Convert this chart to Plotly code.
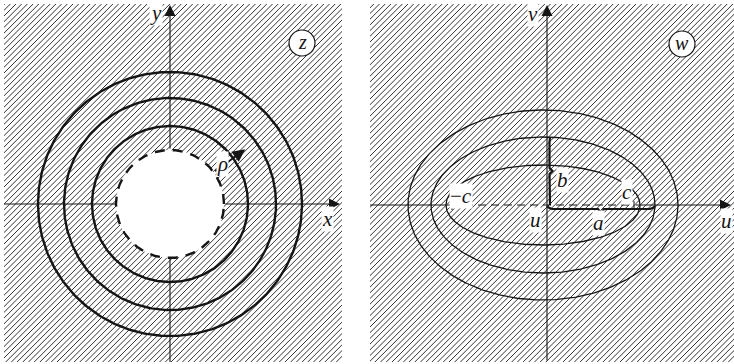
import numpy as np
import plotly.graph_objects as go

W, H = 734, 364

# z-plane: circles |z| = rho, the first one is the dashed inner boundary
z_radii = [54, 78, 106, 132]
z_dashed = [True, False, False, False]
z_rho_arrow = [54, 93]          # radial extent of the rho arrow
z_rho_angle = 36                # degrees

# w-plane: confocal ellipses (semi-axes a, b) around the slit [-c, c]
w_a = [97, 112, 135]
w_b = [40, 68, 95]
w_center = -4
w_c = 91
w_marked = 1                    # index of the ellipse whose a, b are braced

# panel extents in plot units (1 unit = 1 px), origin at the axes crossing
z_xlim, z_ylim = [-166, 172], [-158, 200]
w_xlim, w_ylim = [-177, 187], [-157, 201]
z_px = [4, 342]
w_px = [370, 734]
py = [4, 362]

INK = "#151515"
HATCH = "#333333"
FONT = "Liberation Serif"

fig = go.Figure()


def hatch(xlim, ylim, step=5.7):
    xs, ys = [], []
    lo = ylim[0] - xlim[1] - step
    hi = ylim[1] - xlim[0] + step
    for k in np.arange(lo, hi, step):
        xs += [xlim[0] - 10, xlim[1] + 10, None]
        ys += [xlim[0] - 10 + k, xlim[1] + 10 + k, None]
    return xs, ys


def add_line(xs, ys, ax, width=1.0, dash="solid", color=INK, fill=None):
    fig.add_trace(go.Scatter(
        x=xs, y=ys, mode="lines", xaxis=ax[0], yaxis=ax[1],
        line=dict(color=color, width=width, dash=dash),
        fill=fill, fillcolor="white" if fill else None,
        hoverinfo="skip", showlegend=False))


def brace(p0, p1, depth=4, tip=4):
    """Curly brace from p0 to p1, bulging to the right of the direction."""
    p0, p1 = np.array(p0, float), np.array(p1, float)
    d = p1 - p0
    L = np.hypot(*d)
    t = d / L
    n = np.array([t[1], -t[0]])
    pts = [p0,
           p0 + n * depth * 0.6 + t * 2,
           p0 + n * depth + t * 5,
           p0 + n * depth + t * (L / 2 - 3),
           p0 + n * (depth + tip) + t * (L / 2),
           p0 + n * depth + t * (L / 2 + 3),
           p0 + n * depth + t * (L - 5),
           p0 + n * depth * 0.6 + t * (L - 2),
           p1]
    return [p[0] for p in pts], [p[1] for p in pts]


th = np.linspace(0, 2 * np.pi, 400)

# ---------------- z-plane ----------------
zx = ("x", "y")
hx, hy = hatch(z_xlim, z_ylim)
add_line(hx, hy, zx, width=1.0, color=HATCH)

r0 = z_radii[0]
add_line(r0 * np.cos(th), r0 * np.sin(th), zx, width=0, color="white", fill="toself")

for r, dashed in zip(z_radii, z_dashed):
    add_line(r * np.cos(th), r * np.sin(th), zx, width=2.4,
             dash="10px,8px" if dashed else "solid")

# axes outside the hole
add_line([z_xlim[0], -r0], [0, 0], zx, width=1.1)
add_line([0, 0], [z_ylim[0], -r0], zx, width=1.1)

# ---------------- w-plane ----------------
wx = ("x2", "y2")
hx, hy = hatch(w_xlim, w_ylim)
add_line(hx, hy, wx, width=1.0, color=HATCH)

for a, b in zip(w_a, w_b):
    add_line(w_center + a * np.cos(th), b * np.sin(th), wx, width=1.3)

left_f, right_f = w_center - w_c, w_center + w_c
add_line([w_xlim[0], left_f], [0, 0], wx, width=1.1)
add_line([left_f, right_f], [0, 0], wx, width=1.1, dash="8px,5px")
for f in (left_f, right_f):
    add_line([f, f], [4, -5], wx, width=1.0)

# braces for a and b of the marked ellipse
a_end = w_center + w_a[w_marked]
bx, by = brace((0, -1), (a_end, -1), depth=3, tip=4)
add_line(bx, by, wx, width=2.2)
bx, by = brace((3, w_b[w_marked]), (3, 0), depth=0.5, tip=-3)
add_line(bx, by, wx, width=2.2)

fig.update_layout(
    width=W, height=H, autosize=False,
    margin=dict(l=0, r=0, t=0, b=0, pad=0),
    paper_bgcolor="white", plot_bgcolor="white",
    xaxis=dict(domain=[z_px[0] / W, z_px[1] / W], range=z_xlim, visible=False),
    yaxis=dict(domain=[(H - py[1]) / H, (H - py[0]) / H], range=z_ylim, visible=False),
    xaxis2=dict(domain=[w_px[0] / W, w_px[1] / W], range=w_xlim, visible=False),
    yaxis2=dict(domain=[(H - py[1]) / H, (H - py[0]) / H], range=w_ylim, visible=False,
                anchor="x2"),
)

ann = []


def arrow(ax_, tail, head, width=1.1, size=1.0):
    ann.append(dict(xref=ax_[0], yref=ax_[1], axref=ax_[0], ayref=ax_[1],
                    x=head[0], y=head[1], ax=tail[0], ay=tail[1], text="",
                    showarrow=True, arrowhead=2, arrowsize=size, arrowwidth=width,
                    arrowcolor=INK, standoff=0, startstandoff=0))


def label(ax_, x, y, text, size=21):
    ann.append(dict(xref=ax_[0], yref=ax_[1], x=x, y=y, text=text, showarrow=False,
                    font=dict(family=FONT, size=size, color=INK),
                    bgcolor="white", borderpad=0, xanchor="center", yanchor="middle"))


# z-plane axes arrows and labels
arrow(zx, (r0, 0), (z_xlim[1] - 2, 0), size=2.0)
arrow(zx, (0, r0), (0, z_ylim[1] - 1), size=2.0)
ang = np.radians(z_rho_angle)
arrow(zx, (z_rho_arrow[0] * np.cos(ang), z_rho_arrow[0] * np.sin(ang)),
      (z_rho_arrow[1] * np.cos(ang), z_rho_arrow[1] * np.sin(ang)), width=1.8, size=1.4)
label(zx, -14, 191, "<i>y</i>")
label(zx, 157, -15, "<i>x</i>")
label(zx, 52, 40, "<i>ρ</i>")

# w-plane axes arrows and labels
arrow(wx, (right_f, 0), (w_xlim[1] - 3, 0), size=2.0)
arrow(wx, (0, w_ylim[0]), (0, w_ylim[1] - 1), size=2.0)
label(wx, -14, 191, "<i>v</i>")
label(wx, 179, -16, "<i>u</i>")
label(wx, -12, -15, "<i>u</i>")
label(wx, left_f + 9, 9, "−<i>c</i>")
label(wx, right_f - 7, 13, "<i>c</i>")
label(wx, 15, 25, "<i>b</i>")
label(wx, 51, -18, "<i>a</i>")

# circled plane names
shapes = []
for ax_, cx, cy, name in [(zx, 132, 161, "z"), (wx, 135, 161, "w")]:
    shapes.append(dict(type="circle", xref=ax_[0], yref=ax_[1],
                       x0=cx - 13, x1=cx + 13, y0=cy - 13, y1=cy + 13,
                       line=dict(color=INK, width=1.2), fillcolor="white", layer="above"))
    ann.append(dict(xref=ax_[0], yref=ax_[1], x=cx, y=cy + 1, text=f"<i>{name}</i>",
                    showarrow=False, font=dict(family=FONT, size=20, color=INK)))

fig.update_layout(annotations=ann, shapes=shapes)
fig.write_html("out.html")
